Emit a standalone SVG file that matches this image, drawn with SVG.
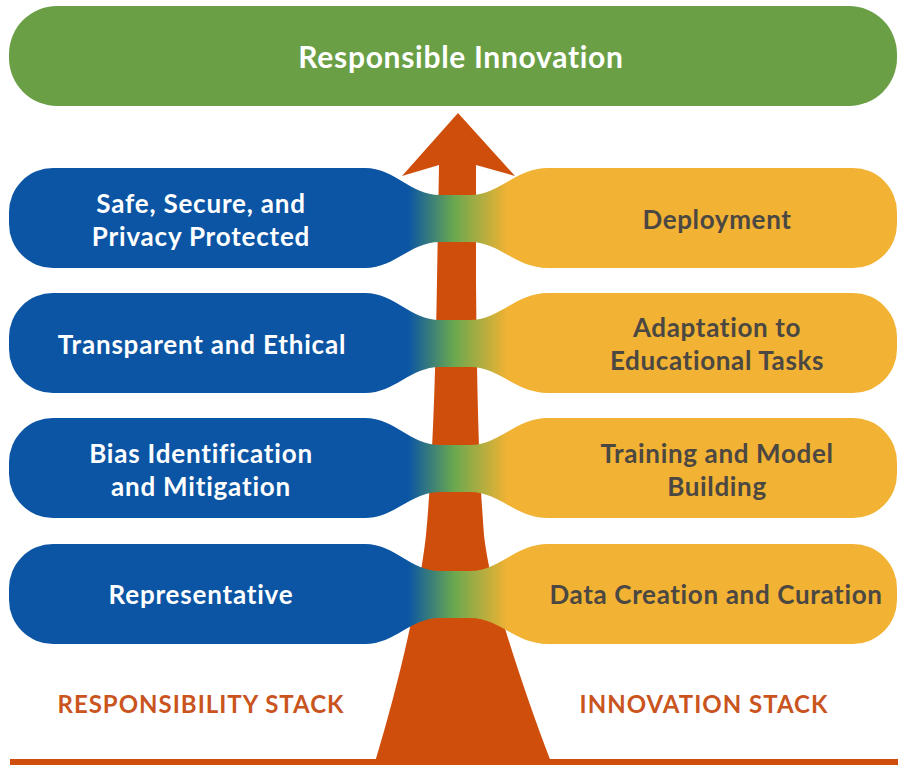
<svg xmlns="http://www.w3.org/2000/svg" width="898" height="765" viewBox="0 0 898 765">
<defs>
<linearGradient id="neck" gradientUnits="userSpaceOnUse" x1="408" y1="0" x2="508" y2="0">
<stop offset="0" stop-color="#0b55a4"/>
<stop offset="0.46" stop-color="#6aa84f"/>
<stop offset="1" stop-color="#f2b233"/>
</linearGradient>
<style>
.bar{fill:url(#neck)}
.t{font-family:Lato,"Open Sans","Liberation Sans",sans-serif;font-weight:700;text-anchor:middle}
.w{fill:#ffffff;font-size:26px;letter-spacing:0.8px}
.d{fill:#4b4742;font-size:26px;letter-spacing:0.65px}
.o{fill:#c9541d;font-size:24px;letter-spacing:1px}
</style>
</defs>
<rect width="898" height="765" fill="#ffffff"/>
<g id="connectors">
<path id="arrow" fill="#d04e0c" d="M458,113 L515,176 L476,165 L476,280 C477,400 479,470 484,535 C490,590 520,680 551,762 L375,762 C400,680 420,590 426,535 C432,470 435,400 437,280 L439,165 L402,176 Z"/>
<rect x="10" y="759" width="888" height="6" fill="#d04e0c"/>
</g>
<g id="responsible-innovation">
<rect x="9" y="6" width="888" height="100" rx="48" fill="#6a9f46"/>
<text class="t" x="461" y="68" fill="#ffffff" font-size="30" letter-spacing="0.7">Responsible Innovation</text>
</g>
<g id="row1">
<path class="bar" d="M53,168 L365,168 C395,168 410,195 440,195 L470,195 C500,195 515,168 548,168 L853,168 A44,44 0 0 1 897,212 L897,224 A44,44 0 0 1 853,268 L548,268 C515,268 500,242 470,242 L440,242 C410,242 395,268 365,268 L53,268 A44,44 0 0 1 9,224 L9,212 A44,44 0 0 1 53,168 Z"/>
<text class="t w" x="201" y="213">Safe, Secure, and</text>
<text class="t w" x="201" y="246">Privacy Protected</text>
<text class="t d" x="717" y="229">Deployment</text>
</g>
<g id="row2">
<path class="bar" d="M53,293 L365,293 C395,293 410,320 440,320 L470,320 C500,320 515,293 548,293 L853,293 A44,44 0 0 1 897,337 L897,349 A44,44 0 0 1 853,393 L548,393 C515,393 500,367 470,367 L440,367 C410,367 395,393 365,393 L53,393 A44,44 0 0 1 9,349 L9,337 A44,44 0 0 1 53,293 Z"/>
<text class="t w" x="202" y="354">Transparent and Ethical</text>
<text class="t d" x="717" y="337">Adaptation to</text>
<text class="t d" x="717" y="370">Educational Tasks</text>
</g>
<g id="row3">
<path class="bar" d="M53,418 L365,418 C395,418 410,445 440,445 L470,445 C500,445 515,418 548,418 L853,418 A44,44 0 0 1 897,462 L897,474 A44,44 0 0 1 853,518 L548,518 C515,518 500,492 470,492 L440,492 C410,492 395,518 365,518 L53,518 A44,44 0 0 1 9,474 L9,462 A44,44 0 0 1 53,418 Z"/>
<text class="t w" x="201" y="463">Bias Identification</text>
<text class="t w" x="201" y="496">and Mitigation</text>
<text class="t d" x="717" y="463">Training and Model</text>
<text class="t d" x="717" y="496">Building</text>
</g>
<g id="row4">
<path class="bar" d="M53,544 L365,544 C395,544 410,571 440,571 L470,571 C500,571 515,544 548,544 L853,544 A44,44 0 0 1 897,588 L897,600 A44,44 0 0 1 853,644 L548,644 C515,644 500,618 470,618 L440,618 C410,618 395,644 365,644 L53,644 A44,44 0 0 1 9,600 L9,588 A44,44 0 0 1 53,544 Z"/>
<text class="t w" x="201" y="604">Representative</text>
<text class="t d" x="716" y="604">Data Creation and Curation</text>
</g>
<g id="labels">
<text class="t o" x="201" y="713">RESPONSIBILITY STACK</text>
<text class="t o" x="704" y="713">INNOVATION STACK</text>
</g>
</svg>
